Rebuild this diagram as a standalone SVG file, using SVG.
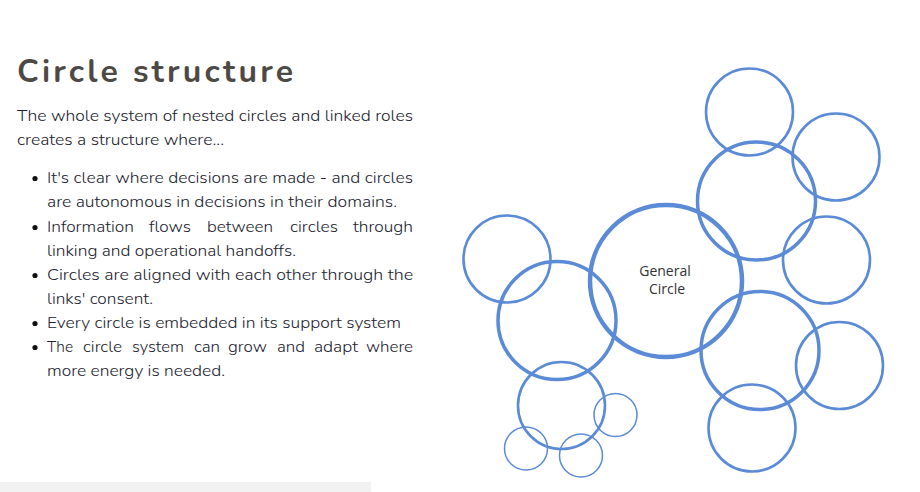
<svg xmlns="http://www.w3.org/2000/svg" width="920" height="492" viewBox="0 0 920 492">
<style>
.title{font-family:"Nunito","Open Sans","Liberation Sans",sans-serif;font-weight:700;font-size:32px;fill:#4d4944;}
.body{font-family:"Nunito","Open Sans","Liberation Sans",sans-serif;font-weight:300;font-size:16px;fill:#22222e;}
.c{fill:none;stroke:#5b8bd6;}
.xl{stroke-width:4.5;}
.l{stroke-width:3.5;}
.m{stroke-width:2.6;}
.s{stroke-width:1.5;}
.lbl{font-family:"Open Sans","Liberation Sans",sans-serif;font-size:14px;fill:#333333;text-anchor:middle;}
</style>
<rect width="920" height="492" fill="#ffffff"/>
<rect x="0" y="482" width="371" height="10" fill="#f2f2f2"/>

<g id="text-block">
<text class="title" x="17" y="82" textLength="276" lengthAdjust="spacing">Circle structure</text>
<text class="body" x="17" y="121" textLength="396" lengthAdjust="spacingAndGlyphs">The whole system of nested circles and linked roles</text>
<text class="body" x="17" y="145" textLength="207" lengthAdjust="spacingAndGlyphs">creates a structure where...</text>
<g fill="#111111">
<circle cx="35" cy="178.5" r="2.6"/>
<circle cx="35" cy="227.5" r="2.6"/>
<circle cx="35" cy="275.5" r="2.6"/>
<circle cx="35" cy="323.5" r="2.6"/>
<circle cx="35" cy="347.5" r="2.6"/>
</g>
<text class="body" x="47" y="183" textLength="366" lengthAdjust="spacingAndGlyphs">It's clear where decisions are made - and circles</text>
<text class="body" x="47" y="207" textLength="350" lengthAdjust="spacingAndGlyphs">are autonomous in decisions in their domains.</text>
<g id="justified-line-1">
<text class="body" x="47" y="232" textLength="87" lengthAdjust="spacingAndGlyphs">Information</text>
<text class="body" x="149" y="232" textLength="42" lengthAdjust="spacingAndGlyphs">flows</text>
<text class="body" x="207" y="232" textLength="66" lengthAdjust="spacingAndGlyphs">between</text>
<text class="body" x="290" y="232" textLength="48" lengthAdjust="spacingAndGlyphs">circles</text>
<text class="body" x="353" y="232" textLength="60" lengthAdjust="spacingAndGlyphs">through</text>
</g>
<text class="body" x="47" y="256" textLength="249" lengthAdjust="spacingAndGlyphs">linking and operational handoffs.</text>
<text class="body" x="47" y="280" textLength="366" lengthAdjust="spacingAndGlyphs">Circles are aligned with each other through the</text>
<text class="body" x="47" y="304" textLength="106" lengthAdjust="spacingAndGlyphs">links' consent.</text>
<text class="body" x="47" y="328" textLength="354" lengthAdjust="spacingAndGlyphs">Every circle is embedded in its support system</text>
<g id="justified-line-2">
<text class="body" x="47" y="352" textLength="26" lengthAdjust="spacingAndGlyphs">The</text>
<text class="body" x="83" y="352" textLength="39" lengthAdjust="spacingAndGlyphs">circle</text>
<text class="body" x="132" y="352" textLength="52" lengthAdjust="spacingAndGlyphs">system</text>
<text class="body" x="194" y="352" textLength="26" lengthAdjust="spacingAndGlyphs">can</text>
<text class="body" x="228" y="352" textLength="39" lengthAdjust="spacingAndGlyphs">grow</text>
<text class="body" x="277" y="352" textLength="28" lengthAdjust="spacingAndGlyphs">and</text>
<text class="body" x="314" y="352" textLength="44" lengthAdjust="spacingAndGlyphs">adapt</text>
<text class="body" x="366" y="352" textLength="47" lengthAdjust="spacingAndGlyphs">where</text>
</g>
<text class="body" x="47" y="376" textLength="178" lengthAdjust="spacingAndGlyphs">more energy is needed.</text>
</g>

<g id="connectors"></g>

<g id="circles">
<g id="general-circle">
<circle class="c xl" cx="666" cy="281" r="76"/>
<text class="lbl" x="665" y="276">General</text>
<text class="lbl" x="667" y="294">Circle</text>
</g>
<g id="upper-right-circle"><circle class="c l" cx="756.5" cy="201" r="59"/></g>
<g id="top-circle"><circle class="c m" cx="749.5" cy="112" r="43.5"/></g>
<g id="right-upper-circle"><circle class="c m" cx="836" cy="157" r="43.5"/></g>
<g id="right-middle-circle"><circle class="c m" cx="826.5" cy="260" r="43.5"/></g>
<g id="lower-right-circle"><circle class="c l" cx="760" cy="350.5" r="59"/></g>
<g id="right-lower-circle"><circle class="c m" cx="839.5" cy="365.5" r="43.5"/></g>
<g id="bottom-circle"><circle class="c m" cx="752" cy="428" r="43.5"/></g>
<g id="left-circle"><circle class="c l" cx="557" cy="320.5" r="59"/></g>
<g id="left-top-circle"><circle class="c m" cx="507" cy="259" r="43.5"/></g>
<g id="bottom-left-circle"><circle class="c m" cx="561.5" cy="405.5" r="43.5"/></g>
<g id="small-right-circle"><circle class="c s" cx="615.5" cy="415" r="21.5"/></g>
<g id="small-left-circle"><circle class="c s" cx="526" cy="448.5" r="21.5"/></g>
<g id="small-mid-circle"><circle class="c s" cx="581" cy="455.5" r="21.5"/></g>
</g>
</svg>
